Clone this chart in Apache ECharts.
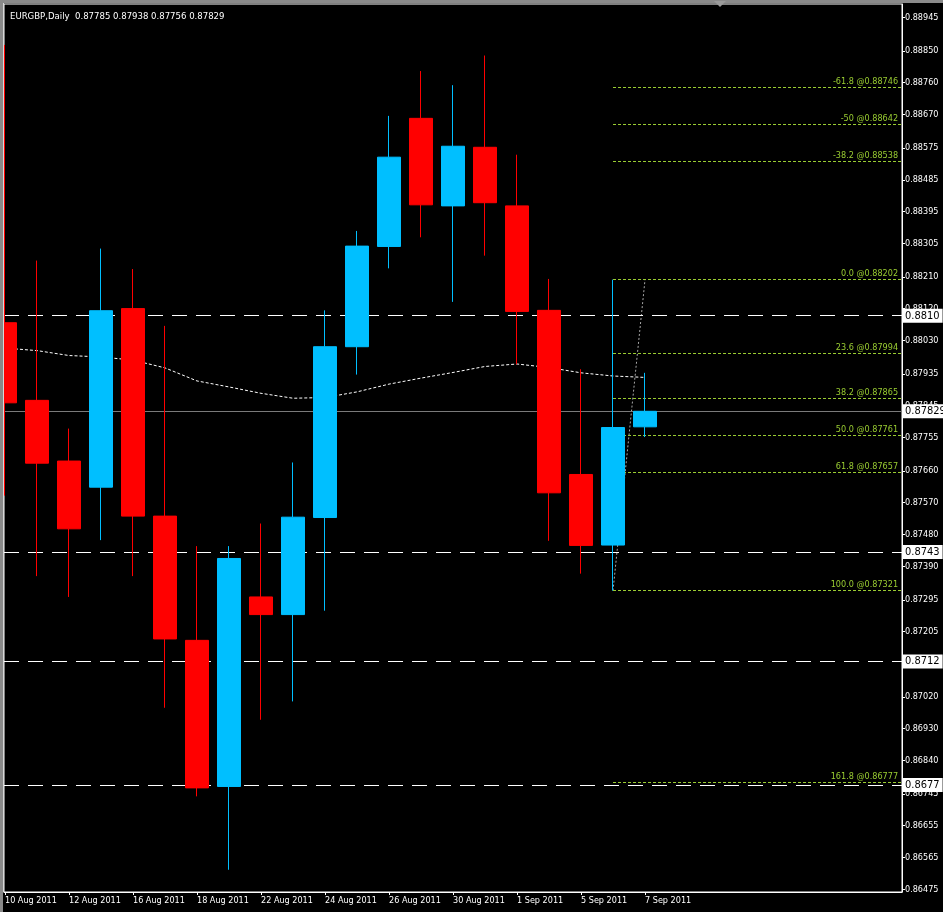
<!DOCTYPE html>
<html><head><meta charset="utf-8">
<script src="https://cdn.jsdelivr.net/npm/echarts@6/dist/echarts.min.js"></script>
<style>html,body{margin:0;padding:0;background:#000;overflow:hidden}#c{width:943px;height:912px}</style>
</head><body><div id="c"></div>
<script>
const dates = ['10 Aug 2011','11 Aug 2011','12 Aug 2011','15 Aug 2011','16 Aug 2011','17 Aug 2011','18 Aug 2011','19 Aug 2011','22 Aug 2011','23 Aug 2011','24 Aug 2011','25 Aug 2011','26 Aug 2011','29 Aug 2011','30 Aug 2011','31 Aug 2011','1 Sep 2011','2 Sep 2011','5 Sep 2011','6 Sep 2011','7 Sep 2011'];
const openP  = [0.88080,0.87860,0.87688,0.87614,0.88120,0.87532,0.87180,0.86766,0.87303,0.87253,0.87528,0.88012,0.88296,0.88659,0.88411,0.88577,0.88411,0.88115,0.87650,0.87450,0.87785];
const closeP = [0.87853,0.87682,0.87496,0.88114,0.87532,0.87184,0.86762,0.87412,0.87253,0.87529,0.88012,0.88297,0.88549,0.88414,0.88580,0.88420,0.88112,0.87598,0.87449,0.87783,0.87829];
const lowP   = [0.87590,0.87362,0.87303,0.87464,0.87362,0.86989,0.86738,0.86530,0.86955,0.87007,0.87264,0.87933,0.88234,0.88322,0.88139,0.88270,0.87962,0.87462,0.87369,0.87321,0.87756];
const highP  = [0.88867,0.88256,0.87780,0.88290,0.88232,0.88071,0.87447,0.87447,0.87511,0.87684,0.88115,0.88340,0.88666,0.88793,0.88753,0.88837,0.88556,0.88204,0.87948,0.88202,0.87938];
const maValues = [0.88008,0.88001,0.87987,0.87983,0.87974,0.87952,0.87915,0.87898,0.87880,0.87866,0.87868,0.87884,0.87906,0.87923,0.87939,0.87956,0.87963,0.87953,0.87938,0.87929,0.87925];
const yTickValues = [0.88945,0.88850,0.88760,0.88670,0.88575,0.88485,0.88395,0.88305,0.88210,0.88120,0.88030,0.87935,0.87845,0.87755,0.87660,0.87570,0.87480,0.87390,0.87295,0.87205,0.87115,0.87020,0.86930,0.86840,0.86745,0.86655,0.86565,0.86475];
const xLabelIdx = [0,2,4,6,8,10,12,14,16,18,20];
const fibLevels = ['-61.8','-50','-38.2','0.0','23.6','38.2','50.0','61.8','100.0','161.8'];
const fibPrices = [0.88746,0.88642,0.88538,0.88202,0.87994,0.87865,0.87761,0.87657,0.87321,0.86777];
const fibLowIdx = 19, fibHighIdx = 20;
const fibLow = 0.87321, fibHigh = 0.88202;
const levelLines = [0.8810, 0.8743, 0.8712, 0.8677];
const levelLabels = ['0.8810','0.8743','0.8712','0.8677'];
const bidPrice = 0.87829;
const bidLabel = '0.87829';
const titleText = 'EURGBP,Daily  0.87785 0.87938 0.87756 0.87829';

const FONT = "'DejaVu Sans Condensed', 'DejaVu Sans', sans-serif";
const X_MIN = -0.031, X_MAX = 28.03, FIB_END = 28.0;
const boxLabel = t => ({show: true, position: 'end', distance: 1, formatter: t, backgroundColor: '#fff', color: '#000', padding: [2, 3, 1, 2], fontSize: 11, fontFamily: FONT});
const chart = echarts.init(document.getElementById('c'));
chart.setOption({
  animation: false,
  backgroundColor: '#000',
  title: {text: titleText, left: 5, top: 7, textStyle: {color: '#fff', fontSize: 9.5, fontWeight: 'normal', fontFamily: FONT}},
  grid: {left: 4, top: 4, right: 41, bottom: 20, show: true, borderColor: '#fff', borderWidth: 1, backgroundColor: '#000', outerBoundsMode: 'none'},
  graphic: [
    {type: 'rect', z: 100, shape: {x: 0, y: 0, width: 943, height: 3}, style: {fill: '#8a8a8a'}, silent: true},
    {type: 'rect', z: 100, shape: {x: 0, y: 0, width: 3, height: 912}, style: {fill: '#8a8a8a'}, silent: true},
    {type: 'rect', z: 100, shape: {x: 3, y: 3, width: 1, height: 889}, style: {fill: '#d8d8d8'}, silent: true},
    {type: 'polygon', z: 100, shape: {points: [[714, 1], [726, 1], [720, 7]]}, style: {fill: '#9a9a9a'}, silent: true}
  ],
  xAxis: {
    type: 'value', min: X_MIN, max: X_MAX,
    axisLine: {show: true, onZero: false, lineStyle: {color: '#fff'}},
    axisTick: {show: true, customValues: xLabelIdx, length: 3, lineStyle: {color: '#fff'}},
    axisLabel: {customValues: xLabelIdx, formatter: v => dates[Math.round(v)] || '', align: 'left', color: '#fff', fontSize: 9, margin: 4, fontFamily: FONT},
    splitLine: {show: false}
  },
  yAxis: {
    type: 'value', position: 'right', min: 0.86467, max: 0.88983,
    axisLine: {show: true, onZero: false, lineStyle: {color: '#fff'}},
    axisTick: {show: true, customValues: yTickValues, length: 3, lineStyle: {color: '#fff'}},
    axisLabel: {customValues: yTickValues, formatter: v => v.toFixed(5), color: '#fff', fontSize: 9, margin: 3, fontFamily: FONT},
    splitLine: {show: false}
  },
  series: [
    {
      type: 'line', data: [], clip: false, z: 1, silent: true,
      markLine: {
        silent: true, symbol: 'none', animation: false,
        data: levelLines.map((p, i) => [
          {coord: [X_MIN, p], lineStyle: {color: '#fff', type: [15, 9], width: 1}, label: boxLabel(levelLabels[i])},
          {coord: [X_MAX, p]}
        ]).concat([[
          {coord: [X_MIN, bidPrice], lineStyle: {color: '#7a7a7a', type: 'solid', width: 1}, label: boxLabel(bidLabel)},
          {coord: [X_MAX, bidPrice]}
        ]])
      }
    },
    {
      type: 'line', data: [], clip: false, z: 1, silent: true,
      markLine: {
        silent: true, symbol: 'none', animation: false,
        lineStyle: {color: '#9acd32', type: [3, 2], width: 1},
        label: {show: true, position: 'insideEndTop', distance: [3, 1], color: '#9acd32', fontSize: 9, fontFamily: FONT},
        data: fibPrices.map((p, i) => [
          {coord: [fibLowIdx, p], label: {formatter: fibLevels[i] + ' @' + p.toFixed(5)}},
          {coord: [FIB_END, p]}
        ])
      }
    },
    {
      type: 'line', z: 2, silent: true, symbol: 'none',
      data: maValues.map((v, i) => [i, v]),
      lineStyle: {color: '#fff', type: [3, 2], width: 1}
    },
    {
      type: 'line', z: 2, silent: true, symbol: 'none',
      data: [[fibLowIdx, fibLow], [fibHighIdx, fibHigh]],
      lineStyle: {color: '#a8a8a8', type: [2, 2], width: 1}
    },
    {
      type: 'candlestick', z: 5, silent: true, barWidth: 24, clip: true,
      encode: {x: 0, y: [1, 2, 3, 4]},
      data: dates.map((d, i) => [i, openP[i], closeP[i], lowP[i], highP[i]]),
      itemStyle: {color: '#00bfff', color0: '#ff0000', borderColor: '#00bfff', borderColor0: '#ff0000', borderWidth: 1}
    }
  ]
});
</script></body></html>
